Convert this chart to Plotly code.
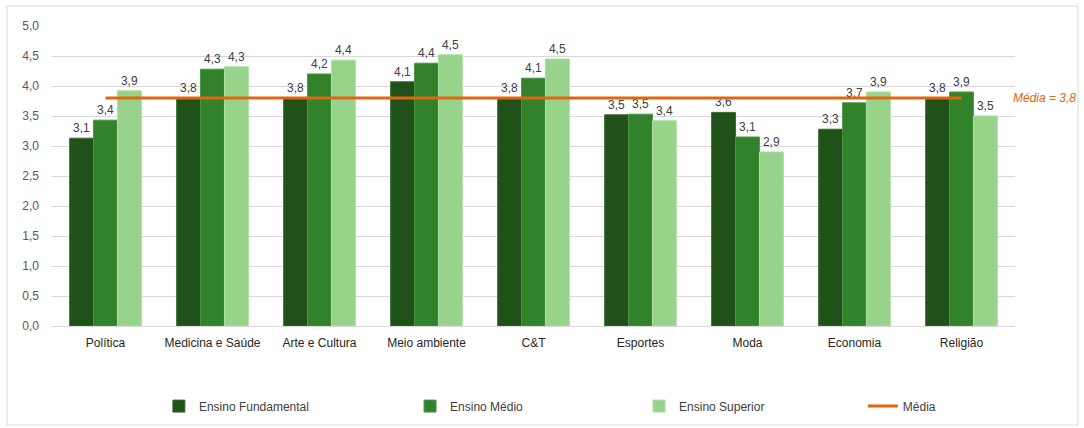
import plotly.graph_objects as go

categories = ["Política", "Medicina e Saúde", "Arte e Cultura", "Meio ambiente", "C&T",
              "Esportes", "Moda", "Economia", "Religião"]
fundamental = [3.13, 3.80, 3.80, 4.07, 3.80, 3.52, 3.56, 3.28, 3.80]
medio = [3.43, 4.28, 4.20, 4.38, 4.13, 3.53, 3.15, 3.72, 3.90]
superior = [3.92, 4.32, 4.43, 4.52, 4.45, 3.42, 2.90, 3.90, 3.50]
media_value = 3.8
series_names = ["Ensino Fundamental", "Ensino Médio", "Ensino Superior"]
colors = ["#1F5118", "#31822B", "#97D38A"]
edge_colors = ["#3A6A33", "#4C9545", "#AEDDA3"]

FONT = "Liberation Sans"
legend_ids = ["legend", "legend2", "legend3"]

fig = go.Figure()
for name, vals, col, edge, lg in zip(series_names, [fundamental, medio, superior],
                                     colors, edge_colors, legend_ids):
    fig.add_trace(go.Bar(
        x=categories, y=vals, name=name, showlegend=True,
        marker=dict(color=col, line=dict(width=1, color=edge)),
        texttemplate="%{y:.1f}", textposition="outside",
        textfont=dict(size=12, color="#404040", family=FONT),
        cliponaxis=False, legend=lg,
    ))

fig.add_trace(go.Scatter(
    x=categories, y=[media_value] * len(categories), name="Média", showlegend=True,
    mode="lines", line=dict(color="#E2660E", width=3), legend="legend4",
))

fig.add_annotation(
    x=1.031, xref="paper", y=media_value, yref="y", xanchor="center",
    text="<i>Média = 3,8</i>", showarrow=False,
    font=dict(size=12, color="#E2660E", family=FONT),
)

fig.add_shape(type="rect", xref="paper", yref="paper",
              x0=-0.0467, x1=1.0654, y0=-0.33, y1=1.0667,
              line=dict(color="#D9D9D9", width=1), fillcolor="rgba(0,0,0,0)", layer="below")

legend_common = dict(orientation="h", y=-0.267, yanchor="middle", xanchor="left",
                     bgcolor="rgba(0,0,0,0)",
                     font=dict(size=12, color="#404040", family=FONT))

fig.update_layout(
    width=1084, height=428,
    margin=dict(l=52, r=69, t=26, b=102, autoexpand=False),
    paper_bgcolor="white", plot_bgcolor="white",
    separators=",.", showlegend=True,
    barmode="group", bargap=0.33, bargroupgap=0,
    font=dict(family=FONT, size=12, color="#404040"),
    legend=dict(x=0.111, **legend_common),
    legend2=dict(x=0.3718, **legend_common),
    legend3=dict(x=0.6096, **legend_common),
    legend4=dict(x=0.842, **legend_common),
    xaxis=dict(showgrid=False, showline=True, linecolor="#D9D9D9", linewidth=1,
               tickfont=dict(size=12, color="#262626", family=FONT), ticks="",
               ticklabelstandoff=6),
    yaxis=dict(range=[0, 5], dtick=0.5, tickformat=".1f", showgrid=True,
               gridcolor="#D9D9D9", gridwidth=1, zeroline=False,
               tickfont=dict(size=12, color="#595959", family=FONT), ticks="",
               ticklabelstandoff=12),
)

fig.write_html("out.html")
